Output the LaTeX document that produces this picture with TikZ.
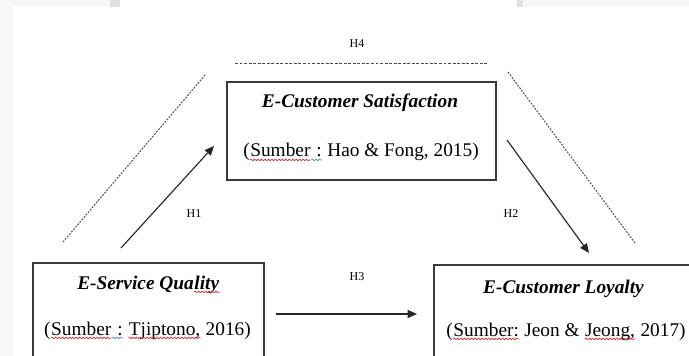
\documentclass[tikz,border=0pt]{standalone}
\usepackage{fontspec}
\setmainfont{Liberation Serif}
\usetikzlibrary{arrows.meta,positioning,decorations.pathmorphing}
\usepackage{xcolor}
\definecolor{PageGray}{HTML}{F7F7F7}
\definecolor{EdgeGray}{HTML}{E2E2E6}
\definecolor{Frame}{HTML}{3A3A3A}
\definecolor{SpellRed}{HTML}{E02424}
\definecolor{SpellBlue}{HTML}{4C7BDA}
\newcommand\spellwave[2]{\tikz[baseline=(w.base)]{\node[inner sep=0pt,anchor=base] (w) at (0,0) {#2};
  \draw[#1,line width=0.5pt,decorate,decoration={snake,amplitude=0.6pt,segment length=2.6pt}]
    ([yshift=-2.2pt]w.base west) -- ([yshift=-2.2pt]w.base east);}}
\newcommand\redwave[1]{\spellwave{SpellRed}{#1}}
\newcommand\bluewave[1]{\spellwave{SpellBlue}{#1}}

\begin{document}
\begin{tikzpicture}[x=0.75pt,y=-0.75pt,every node/.style={inner sep=0pt},
  varbox/.style={draw=Frame,line width=1pt,minimum width=#1,minimum height=73.5pt},
  vartitle/.style={anchor=base,font=\fontsize{14.5}{17}\selectfont\bfseries\itshape},
  varsrc/.style={anchor=base,font=\fontsize{14.5}{17}\selectfont},
  hlabel/.style={font=\fontsize{9}{11}\selectfont},
  hyp/.style={draw=black!85,line width=0.85pt,-{Triangle[length=7pt,width=6pt]}},
  guide/.style={draw=black!70,line width=0.75pt,dash pattern=on 1.4pt off 1pt}]
  \useasboundingbox (0,0) rectangle (689,356);
  \clip (0,0) rectangle (689,356);
  \fill[PageGray] (0,0) rectangle (689,356);
  \fill[white] (13,7) rectangle (689,356);
  \fill[white] (120,0) rectangle (517,7);
  \fill[EdgeGray] (110,0) rectangle (120,7);
  \fill[EdgeGray] (517,0) rectangle (523,7);

  \node[varbox=201.75pt] (sat) at (361.5,131) {};
  \node[vartitle] (satT) at (360,108) {E-Customer Satisfaction};
  \node[varsrc] (satS) at (361,157) {(\redwave{Sumber}\bluewave{\ :} Hao \& Fong, 2015)};

  \node[varbox=173.25pt] (esq) at (148.5,312) {};
  \node[vartitle] (esqT) at (148.5,289) {E-Service Qua\redwave{lity}};
  \node[varsrc] (esqS) at (147.5,335) {(\redwave{Sumber}\bluewave{\ :} \redwave{Tjiptono,} 2016)};

  \node[varbox=196.5pt] (ecl) at (565,314) {};
  \node[vartitle] (eclT) at (563.5,293) {E-Customer Loyalty};
  \node[varsrc] (eclS) at (566,336) {(\redwave{Sumber:} Jeon \& \redwave{Jeong,} 2017)};

  \coordinate (h1s) at (121,248); \coordinate (h1e) at (214,146);
  \coordinate (h2s) at (507,140); \coordinate (h2e) at (589,253);
  \coordinate (h3s) at (276,314); \coordinate (h3e) at (417,314);
  \coordinate (g1s) at (63,242);  \coordinate (g1e) at (206,74);
  \coordinate (g2s) at (508,72);  \coordinate (g2e) at (635,243);
  \coordinate (g4s) at (235,64);  \coordinate (g4e) at (487,64);

  \draw[hyp] (h1s) -- (h1e);
  \draw[hyp] (h2s) -- (h2e);
  \draw[hyp] (h3s) -- (h3e);
  \draw[guide] (g1s) -- (g1e);
  \draw[guide] (g2s) -- (g2e);
  \draw[guide,dash pattern=on 2.2pt off 1.2pt] (g4s) -- (g4e);

  \node[hlabel] (H1) at (194,214) {H1};
  \node[hlabel] (H2) at (511,214) {H2};
  \node[hlabel] (H3) at (357,277) {H3};
  \node[hlabel] (H4) at (357,44) {H4};
\end{tikzpicture}
\end{document}
